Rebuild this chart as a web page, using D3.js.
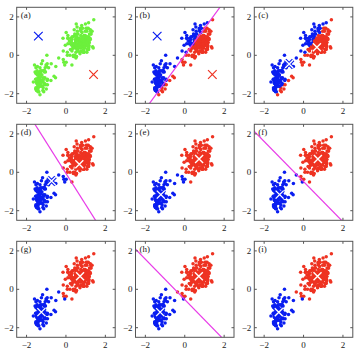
<!DOCTYPE html>
<html><head><meta charset="utf-8">
<script src="https://cdn.jsdelivr.net/npm/d3@7"></script>
<style>body{margin:0;background:#fff}svg{display:block}</style>
</head><body>
<script>
// Old Faithful data: eruption duration (min) and waiting time (min)
const eruptions = [3.600,1.800,3.333,2.283,4.533,2.883,4.700,3.600,1.950,4.350,1.833,3.917,4.200,1.750,4.700,2.167,1.750,4.800,1.600,4.250,1.800,1.750,3.450,3.067,4.533,3.600,1.967,4.083,3.850,4.433,4.300,4.467,3.367,4.033,3.833,2.017,1.867,4.833,1.833,4.783,4.350,1.883,4.567,1.750,4.533,3.317,3.833,2.100,4.633,2.000,4.800,4.716,1.833,4.833,1.733,4.883,3.717,1.667,4.567,4.317,2.233,4.500,1.750,4.800,1.817,4.400,4.167,4.700,2.067,4.700,4.033,1.967,4.500,4.000,1.983,5.067,2.017,4.567,3.883,3.600,4.133,4.333,4.100,2.633,4.067,4.933,3.950,4.517,2.167,4.000,2.200,4.333,1.867,4.817,1.833,4.300,4.667,3.750,1.867,4.900,2.483,4.367,2.100,4.500,4.050,1.867,4.700,1.783,4.850,3.683,4.733,2.300,4.900,4.417,1.700,4.633,2.317,4.600,1.817,4.417,2.617,4.067,4.250,1.967,4.600,3.767,1.917,4.500,2.267,4.650,1.867,4.167,2.800,4.333,1.833,4.383,1.883,4.933,2.033,3.733,4.233,2.233,4.533,4.817,4.333,1.983,4.633,2.017,5.100,1.800,5.033,4.000,2.400,4.600,3.567,4.000,4.500,4.083,1.800,3.967,2.200,4.150,2.000,3.833,3.500,4.583,2.367,5.000,1.933,4.617,1.917,2.083,4.583,3.333,4.167,4.333,4.500,2.417,4.000,4.167,1.883,4.583,4.250,3.767,2.033,4.433,4.083,1.833,4.417,2.183,4.800,1.833,4.800,4.100,3.966,4.233,3.500,4.366,2.250,4.667,2.100,4.350,4.133,1.867,4.600,1.783,4.367,3.850,1.933,4.500,2.383,4.700,1.867,3.833,3.417,4.233,2.400,4.800,2.000,4.150,1.867,4.267,1.750,4.483,4.000,4.117,4.083,4.267,3.917,4.550,4.083,2.417,4.183,2.217,4.450,1.883,1.850,4.283,3.950,2.333,4.150,2.350,4.933,2.900,4.583,3.833,2.083,4.367,2.133,4.350,2.200,4.450,3.567,4.500,4.150,3.817,3.917,4.450,2.000,4.283,4.767,4.533,1.850,4.250,1.983,2.250,4.750,4.117,2.150,4.417,1.817,4.467];
const waiting = [79,54,74,62,85,55,88,85,51,85,54,84,78,47,83,52,62,84,52,79,51,47,78,69,74,83,55,76,78,79,73,77,66,80,74,52,48,80,59,90,80,58,84,58,73,83,64,53,82,59,75,90,54,80,54,83,71,64,77,81,59,84,48,82,60,92,78,78,65,73,82,56,79,71,62,76,60,78,76,83,75,82,70,65,73,88,76,80,48,86,60,90,50,78,63,72,84,75,51,82,62,88,49,83,81,47,84,52,86,81,75,59,89,79,59,81,50,85,59,87,53,69,77,56,88,81,45,82,55,90,45,83,56,89,46,82,51,86,53,79,81,60,82,77,76,59,80,49,96,53,77,77,65,81,71,70,81,93,53,89,45,86,58,78,66,76,63,88,52,93,49,57,77,68,81,81,73,50,85,74,55,77,83,83,51,78,84,46,83,55,81,57,76,84,77,81,87,77,51,78,60,82,91,53,78,46,77,84,49,83,71,80,49,75,64,76,53,94,55,76,50,82,54,75,78,79,78,78,70,79,70,54,86,50,90,54,54,77,79,64,75,47,86,63,85,82,57,82,67,74,54,83,73,73,88,80,71,83,56,79,78,84,58,83,43,60,75,81,46,90,46,74];
// initial centroids: [blue, red]
const initX = [-1.4, 1.4];
const initY = [1.0, -1.0];
const panelLabels = ["(a)","(b)","(c)","(d)","(e)","(f)","(g)","(h)","(i)"];
const tickValues = [-2, 0, 2];
const domainLim = [-2.5, 2.5];

const colors = {green:"#6cf03c", k:["#0a1ef0","#ee3322"], line:"#e83be8"};

// standardise
const me = d3.mean(eruptions), se = d3.deviation(eruptions);
const mw = d3.mean(waiting), sw = d3.deviation(waiting);
const pts = eruptions.map((e,i)=>({x:(e-me)/se, y:(waiting[i]-mw)/sw}));

function assign(mu){
  return pts.map(p=>{
    const d0=(p.x-mu[0].x)**2+(p.y-mu[0].y)**2;
    const d1=(p.x-mu[1].x)**2+(p.y-mu[1].y)**2;
    return d0<=d1?0:1;
  });
}
function update(r){
  return [0,1].map(k=>{
    const s=pts.filter((p,i)=>r[i]===k);
    return {x:d3.mean(s,p=>p.x), y:d3.mean(s,p=>p.y)};
  });
}
const mu0=[{x:initX[0],y:initY[0]},{x:initX[1],y:initY[1]}];
const r1=assign(mu0), mu1=update(r1);
const r2=assign(mu1), mu2=update(r2);
const r3=assign(mu2), mu3=update(r3);
const r4=assign(mu3), mu4=update(r4);

const panels=[
  {r:null, mu:mu0, line:null, thin:true},
  {r:r1, mu:mu0, line:mu0, thin:true},
  {r:r1, mu:mu1, line:null},
  {r:r2, mu:mu1, line:mu1},
  {r:r2, mu:mu2, line:null},
  {r:r3, mu:mu2, line:mu2},
  {r:r3, mu:mu3, line:null},
  {r:r4, mu:mu3, line:mu3},
  {r:r4, mu:mu4, line:null}
];

const W=363,H=353;
const left0=16.7, colPitch=118.8, pw=98.5;
const top0=7.3, rowPitch=117, ph=96;

const svg=d3.select("body").append("svg").attr("width",W).attr("height",H);
const defs=svg.append("defs");

panels.forEach((P,idx)=>{
  const c=idx%3, rw=Math.floor(idx/3);
  const x0=left0+c*colPitch, y0=top0+rw*rowPitch;
  const g=svg.append("g").attr("transform",`translate(${x0},${y0})`);
  const xs=d3.scaleLinear().domain(domainLim).range([0,pw]);
  const ys=d3.scaleLinear().domain(domainLim).range([ph,0]);
  defs.append("clipPath").attr("id","cp"+idx).append("rect").attr("width",pw).attr("height",ph);
  const inner=g.append("g").attr("clip-path",`url(#cp${idx})`);

  inner.selectAll("circle").data(pts).join("circle")
    .attr("cx",d=>xs(d.x)).attr("cy",d=>ys(d.y)).attr("r",1.75)
    .attr("fill",(d,i)=>P.r?colors.k[P.r[i]]:colors.green);

  if(P.line){
    const m={x:(P.line[0].x+P.line[1].x)/2, y:(P.line[0].y+P.line[1].y)/2};
    const dx=-(P.line[1].y-P.line[0].y), dy=(P.line[1].x-P.line[0].x);
    const L=20;
    inner.append("line")
      .attr("x1",xs(m.x-L*dx)).attr("y1",ys(m.y-L*dy))
      .attr("x2",xs(m.x+L*dx)).attr("y2",ys(m.y+L*dy))
      .attr("stroke",colors.line).attr("stroke-width",1.2);
  }

  P.mu.forEach((m,k)=>{
    const cx=xs(m.x), cy=ys(m.y);
    const s=P.thin?4.3:4;
    const path=`M${cx-s},${cy-s}L${cx+s},${cy+s}M${cx-s},${cy+s}L${cx+s},${cy-s}`;
    if(P.thin){
      inner.append("path").attr("d",path).attr("stroke",colors.k[k]).attr("stroke-width",1.2).attr("fill","none");
    } else {
      inner.append("path").attr("d",path).attr("stroke",colors.k[k]).attr("stroke-width",3.4).attr("fill","none");
      inner.append("path").attr("d",path).attr("stroke","#fff").attr("stroke-width",1.4).attr("fill","none");
    }
  });

  // frame
  g.append("rect").attr("width",pw).attr("height",ph).attr("fill","none").attr("stroke","#555").attr("stroke-width",1);
  // inward ticks
  const tl=2.5;
  tickValues.forEach(t=>{
    g.append("line").attr("x1",xs(t)).attr("x2",xs(t)).attr("y1",ph).attr("y2",ph-tl).attr("stroke","#555");
    g.append("line").attr("x1",xs(t)).attr("x2",xs(t)).attr("y1",0).attr("y2",tl).attr("stroke","#555");
    g.append("line").attr("y1",ys(t)).attr("y2",ys(t)).attr("x1",0).attr("x2",tl).attr("stroke","#555");
    g.append("line").attr("y1",ys(t)).attr("y2",ys(t)).attr("x1",pw).attr("x2",pw-tl).attr("stroke","#555");
    g.append("text").attr("x",xs(t)).attr("y",ph+11).attr("text-anchor","middle")
      .attr("font-family","Liberation Serif, serif").attr("font-size",9).attr("fill","#222")
      .text(t<0?"\u2212"+Math.abs(t):String(t));
    g.append("text").attr("x",-3).attr("y",ys(t)+3).attr("text-anchor","end")
      .attr("font-family","Liberation Serif, serif").attr("font-size",9).attr("fill","#222")
      .text(t<0?"\u2212"+Math.abs(t):String(t));
  });
  g.append("text").attr("x",4).attr("y",11).attr("font-family","Liberation Serif, serif")
    .attr("font-size",9).attr("fill","#222").text(panelLabels[idx]);
});
</script>
</body></html>
